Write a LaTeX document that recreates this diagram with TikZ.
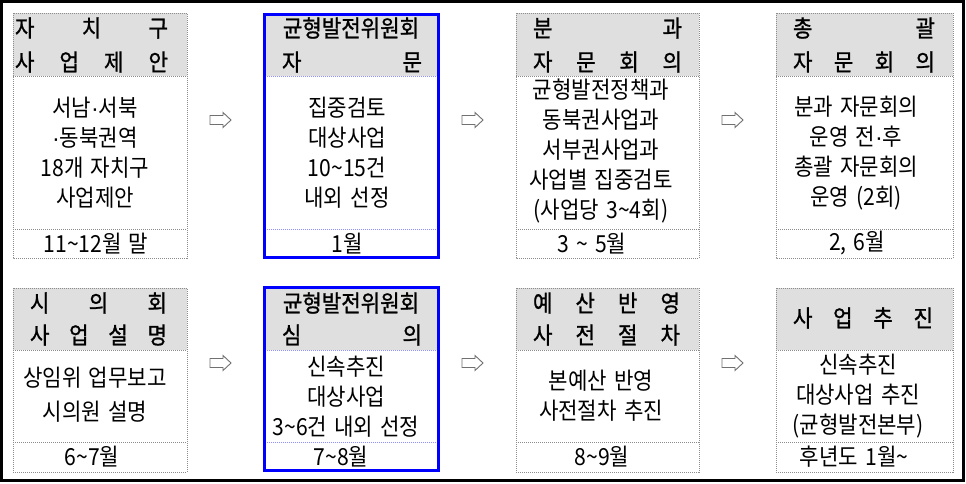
\documentclass[tikz,border=0pt]{standalone}
\usepackage{fontspec}
\setmainfont[FakeStretch=0.9,WordSpace=1.5]{Noto Sans CJK KR}
\newfontfamily\hdrfont[FakeBold=1,FakeStretch=0.9]{Noto Sans CJK KR}
\newfontfamily\latinf{Liberation Sans}
\newcommand\mdot{{\latinf ·}}
\definecolor{hdrgray}{HTML}{DFDFDF}
\definecolor{boxline}{HTML}{8C8C8C}
\definecolor{sepblue}{HTML}{9090FF}
\definecolor{arrowline}{HTML}{707070}
\newcommand\spreadtxt[2]{\makebox[#1][s]{#2}}
\tikzset{
 body/.style={font=\fontsize{23.5}{30}\selectfont, align=center, inner sep=0pt},
 hdr/.style={font=\hdrfont\fontsize{23.5}{24}\selectfont, inner sep=0pt},
 gline/.style={draw=boxline, line width=0.7pt, dash pattern=on 1pt off 1pt},
 bline/.style={draw=blue, line width=3pt},
 bsep/.style={draw=sepblue, line width=0.7pt, dash pattern=on 1pt off 1pt},
 harrow/.style={draw=arrowline, fill=white, line width=0.9pt, line join=miter},
}
\newcommand\grayproc[6]{%
 \fill[hdrgray] (#1,#3) rectangle (#2,#4);
 \draw[gline] (#1,#3) rectangle (#2,#6);
 \draw[gline] (#1,#4) -- (#2,#4);
 \draw[gline] (#1,#5) -- (#2,#5);}
\newcommand\blueproc[6]{%
 \fill[hdrgray] (#1,#3) rectangle (#2,#4);
 \draw[bsep] (#1,#4) -- (#2,#4);
 \draw[bsep] (#1,#5) -- (#2,#5);
 \draw[bline] (#1,#3) rectangle (#2,#6);}
% hollow block arrow centred on a named coordinate
\newcommand\blockarrow[3]{%
 \coordinate (#1) at (#2,#3);
 \draw[harrow] ([shift={(-10.5,-4.5)}]#1) -- ++(13,0) -- ++(0,-3) -- ++(8,7.5)
   -- ++(-8,7.5) -- ++(0,-3) -- ++(-13,0) -- cycle;}
\begin{document}
\begin{tikzpicture}[x=1pt,y=-1pt]
\useasboundingbox (0,0) rectangle (966,483);
\fill[white] (0,0) rectangle (966,483);
\draw[line width=3pt] (1.5,1.5) rectangle (963.5,480.5);

% ---------- row 1 ----------
\grayproc{13}{187}{13}{76}{229}{258}
\blueproc{264.5}{438.5}{14.5}{76}{229}{257.5}
\grayproc{516}{699}{13}{76}{229}{258}
\grayproc{776}{953}{13}{76}{229}{258}

\node[hdr] (h11a) at (91.5,28) {\spreadtxt{153pt}{자\hfill 치\hfill 구}};
\node[hdr] (h11b) at (91.5,62) {\spreadtxt{153pt}{사\hfill 업\hfill 제\hfill 안}};
\node[hdr] (h12a) at (351,28) {균형발전위원회};
\node[hdr] (h12b) at (352,62) {\spreadtxt{140pt}{자\hfill 문}};
\node[hdr] (h13a) at (607.5,28) {\spreadtxt{149pt}{분\hfill 과}};
\node[hdr] (h13b) at (607.5,62) {\spreadtxt{149pt}{자\hfill 문\hfill 회\hfill 의}};
\node[hdr] (h14a) at (864,28) {\spreadtxt{142pt}{총\hfill 괄}};
\node[hdr] (h14b) at (864,62) {\spreadtxt{142pt}{자\hfill 문\hfill 회\hfill 의}};

\node[body] (t11) at (95,152.5) {서남\mdot 서북\\\mdot 동북권역\\18개 자치구\\사업제안};
\node[body] (t12) at (347,152.5) {집중검토\\대상사업\\10\textasciitilde15건\\내외 선정};
\node[body] (t13) at (601,151) {균형발전정책과\\동북권사업과\\서부권사업과\\사업별 집중검토\\(사업당 3\textasciitilde4회)};
\node[body] (t14) at (856,153) {분과 자문회의\\운영 전\mdot 후\\총괄 자문회의\\운영 (2회)};

\node[body] (d11) at (96,243.5) {11\textasciitilde12월 말};
\node[body] (d12) at (347,243.5) {1월};
\node[body] (d13) at (592,243.5) {3 \textasciitilde{} 5월};
\node[body] (d14) at (857,243.5) {2, 6월};

\blockarrow{a11}{220.5}{120}
\blockarrow{a12}{472.5}{120}
\blockarrow{a13}{732.5}{120}

% ---------- row 2 ----------
\grayproc{13}{187}{288}{350}{442}{472}
\blueproc{264.5}{438.5}{287.5}{350}{442}{470.5}
\grayproc{516}{699}{288}{350}{442}{472}
\grayproc{776}{953}{288}{350}{442}{472}

\node[hdr] (h21a) at (98.5,303) {\spreadtxt{137pt}{시\hfill 의\hfill 회}};
\node[hdr] (h21b) at (98.5,335) {\spreadtxt{137pt}{사\hfill 업\hfill 설\hfill 명}};
\node[hdr] (h22a) at (351,303) {균형발전위원회};
\node[hdr] (h22b) at (352,335) {\spreadtxt{140pt}{심\hfill 의}};
\node[hdr] (h23a) at (606.5,303) {\spreadtxt{147pt}{예\hfill 산\hfill 반\hfill 영}};
\node[hdr] (h23b) at (606.5,335) {\spreadtxt{147pt}{사\hfill 전\hfill 절\hfill 차}};
\node[hdr] (h24) at (863,318) {\spreadtxt{140pt}{사\hfill 업\hfill 추\hfill 진}};

\node[body] (t21) at (95,395) {상임위 업무보고\\[4pt]시의원 설명};
\node[body] (t22) at (346,396.5) {신속추진\\대상사업\\3\textasciitilde6건 내외 선정};
\node[body] (t23) at (601,396) {본예산 반영\\사전절차 추진};
\node[body] (t24) at (858,396.5) {신속추진\\대상사업 추진\\(균형발전본부)};

\node[body] (d21) at (92,457) {6\textasciitilde7월};
\node[body] (d22) at (341,457) {7\textasciitilde8월};
\node[body] (d23) at (602,457) {8\textasciitilde9월};
\node[body] (d24) at (854,457) {후년도 1월\textasciitilde};

\blockarrow{a21}{220.5}{363}
\blockarrow{a22}{472.5}{363}
\blockarrow{a23}{732.5}{363}
\end{tikzpicture}
\end{document}
